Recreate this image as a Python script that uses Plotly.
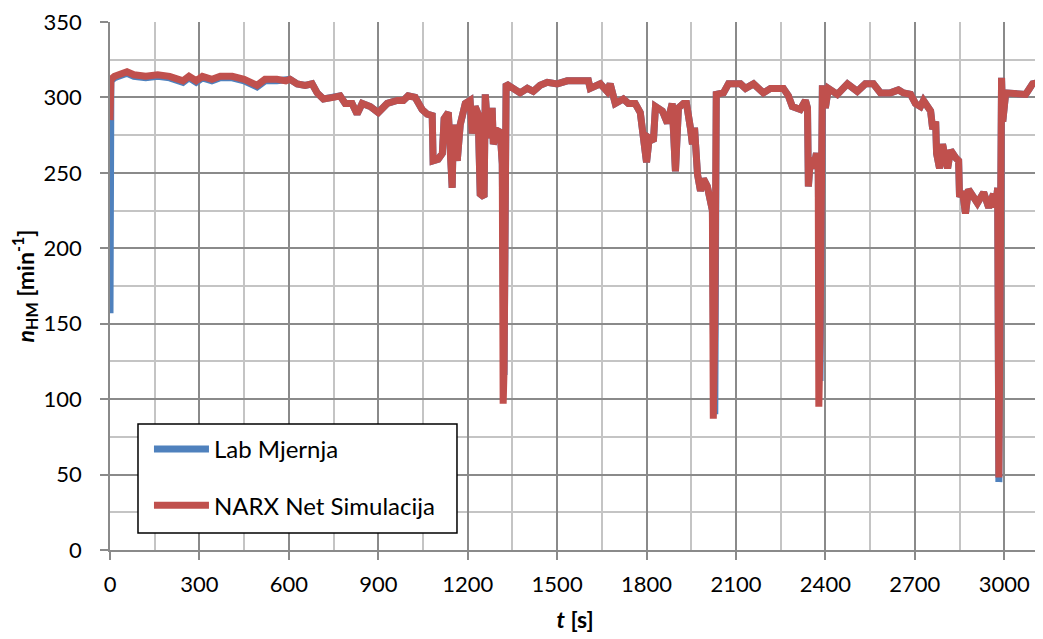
import plotly.graph_objects as go

# time [s]
t_s = [
    0, 3, 15, 30, 57, 80, 120, 160, 200, 245,
    265, 289, 310, 342, 370, 410, 450, 493, 520, 560,
    590, 604, 628, 655, 678, 695, 716, 749, 772, 789,
    812, 829, 846, 873, 900, 930, 963, 984, 1000, 1024,
    1047, 1064, 1081, 1084, 1101, 1115, 1121, 1135, 1148, 1152,
    1158, 1165, 1175, 1192, 1208, 1215, 1225, 1235, 1242, 1255,
    1259, 1269, 1282, 1286, 1299, 1309, 1316, 1319, 1322, 1329,
    1353, 1376, 1400, 1420, 1443, 1467, 1500, 1534, 1578, 1605,
    1611, 1645, 1668, 1678, 1695, 1722, 1739, 1762, 1779, 1786,
    1800, 1809, 1823, 1830, 1853, 1870, 1886, 1897, 1907, 1924,
    1934, 1947, 1954, 1961, 1971, 1981, 1991, 2004, 2014, 2021,
    2024, 2029, 2034, 2058, 2075, 2115, 2132, 2159, 2192, 2216,
    2259, 2276, 2289, 2316, 2333, 2340, 2343, 2350, 2360, 2370,
    2376, 2378, 2382, 2390, 2400, 2410, 2440, 2474, 2507, 2534,
    2561, 2585, 2618, 2645, 2662, 2686, 2702, 2719, 2729, 2753,
    2760, 2770, 2773, 2783, 2793, 2810, 2820, 2837, 2847, 2850,
    2860, 2870, 2880, 2910, 2931, 2948, 2964, 2971, 2978, 2982,
    2987, 2991, 2995, 3005, 3021, 3045, 3072, 3095, 3120,
]

# NARX network simulation [min^-1]
narx_sim = [
    285, 312, 314, 315, 317, 315, 314, 315, 314, 311,
    314, 311, 314, 312, 314, 314, 312, 308, 312, 312,
    311, 312, 309, 308, 309, 303, 299, 300, 301, 296,
    296, 289, 296, 294, 290, 296, 298, 298, 301, 300,
    292, 289, 288, 258, 259, 263, 286, 290, 240, 282,
    273, 258, 282, 296, 298, 276, 294, 289, 236, 234,
    302, 273, 293, 269, 278, 277, 256, 97, 120, 309,
    306, 303, 306, 304, 308, 310, 309, 311, 311, 311,
    306, 309, 304, 309, 296, 299, 296, 296, 290, 280,
    257, 273, 271, 294, 291, 283, 296, 251, 293, 296,
    296, 280, 269, 280, 249, 238, 246, 241, 232, 225,
    87, 150, 302, 303, 309, 309, 306, 309, 303, 306,
    306, 301, 294, 292, 298, 293, 241, 260, 253, 263,
    253, 95, 140, 308, 293, 306, 302, 309, 304, 309,
    309, 303, 303, 305, 303, 302, 296, 294, 298, 291,
    279, 284, 263, 253, 269, 253, 265, 260, 258, 234,
    238, 223, 239, 230, 237, 227, 236, 227, 240, 48,
    200, 313, 284, 303, 303, 303, 302, 309, 310,
]

# Lab measurements [min^-1]
lab_meas = [
    157, 311, 313, 314, 316, 314, 313, 314, 313, 310,
    313, 310, 313, 311, 313, 313, 311, 307, 311, 311,
    311, 312, 309, 308, 309, 303, 299, 300, 301, 296,
    296, 289, 296, 294, 290, 296, 298, 298, 301, 300,
    292, 289, 288, 258, 259, 263, 286, 290, 240, 282,
    273, 258, 282, 296, 298, 276, 294, 289, 236, 234,
    302, 273, 293, 269, 278, 277, 256, 160, 116, 309,
    306, 303, 306, 304, 308, 310, 309, 311, 311, 311,
    306, 309, 304, 309, 296, 299, 296, 296, 290, 280,
    257, 273, 271, 294, 291, 283, 296, 251, 293, 296,
    296, 280, 269, 280, 249, 238, 246, 241, 232, 225,
    150, 90, 302, 303, 309, 309, 306, 309, 303, 306,
    306, 301, 294, 292, 298, 293, 241, 260, 253, 263,
    253, 150, 112, 308, 293, 306, 302, 309, 304, 309,
    309, 303, 303, 305, 303, 302, 296, 294, 298, 291,
    279, 284, 263, 253, 269, 253, 265, 260, 258, 234,
    238, 223, 239, 230, 237, 227, 236, 227, 240, 45,
    200, 313, 284, 303, 303, 303, 302, 309, 310,
]

x_tick_vals = [0, 300, 600, 900, 1200, 1500, 1800, 2100, 2400, 2700, 3000]
y_tick_vals = [0, 50, 100, 150, 200, 250, 300, 350]

FONT = "Lato"
MAJOR = "#8a8a8a"
MINOR = "#c4c4c4"

fig = go.Figure()
fig.add_trace(go.Scatter(
    x=t_s, y=lab_meas, mode="lines", name="Lab Mjernja",
    line=dict(color="#4F81BD", width=7, shape="linear"),
    legendgroup="a",
))
fig.add_trace(go.Scatter(
    x=t_s, y=narx_sim, mode="lines", name="NARX Net Simulacija",
    line=dict(color="#C0504D", width=7, shape="linear"),
    legendgroup="b",
))

# legend frame
fig.add_shape(
    type="rect", xref="paper", yref="paper",
    x0=0.0301, x1=0.3731, y0=0.0322, y1=0.2386,
    fillcolor="white", line=dict(color="black", width=1.5), layer="above",
)

fig.update_layout(
    width=1035, height=631,
    margin=dict(l=102, r=3, t=14, b=89),
    paper_bgcolor="white", plot_bgcolor="white",
    font=dict(family=FONT, size=22, color="black"),
    showlegend=True,
    legend=dict(
        x=0.0419, y=0.233, xanchor="left", yanchor="top",
        bgcolor="rgba(0,0,0,0)", borderwidth=0,
        font=dict(family=FONT, size=24, color="black"),
        traceorder="grouped", tracegroupgap=22,
        itemwidth=55,
    ),
    xaxis=dict(
        range=[0, 3120], tickvals=x_tick_vals, automargin=False,
        ticks="outside", ticklen=8, tickcolor=MAJOR, tickwidth=1.5,
        showgrid=True, gridcolor=MAJOR, gridwidth=1.5,
        minor=dict(dtick=150, tick0=0, showgrid=True, gridcolor=MINOR, gridwidth=1.5, ticks=""),
        showline=True, linecolor=MAJOR, linewidth=1.5,
        zeroline=False,
        tickfont=dict(family=FONT, size=22),
        ticklabelstandoff=6, ticklabeloverflow="allow",
        title=dict(text="<b><i>t</i> [s]</b>", font=dict(family=FONT, size=23), standoff=16),
    ),
    yaxis=dict(
        range=[0, 350], tickvals=y_tick_vals, automargin=False,
        ticks="outside", ticklen=8, tickcolor=MAJOR, tickwidth=1.5,
        showgrid=True, gridcolor=MAJOR, gridwidth=1.5,
        minor=dict(dtick=25, tick0=0, showgrid=True, gridcolor=MINOR, gridwidth=1.5, ticks=""),
        showline=True, linecolor=MAJOR, linewidth=1.5,
        zeroline=False,
        tickfont=dict(family=FONT, size=22),
        ticklabelstandoff=14, ticklabeloverflow="allow",
        title=dict(text="<b><i>n</i><sub>HM</sub> [min<sup>-1</sup>]</b>", font=dict(family=FONT, size=23), standoff=18),
    ),
)

fig.write_html("out.html")
